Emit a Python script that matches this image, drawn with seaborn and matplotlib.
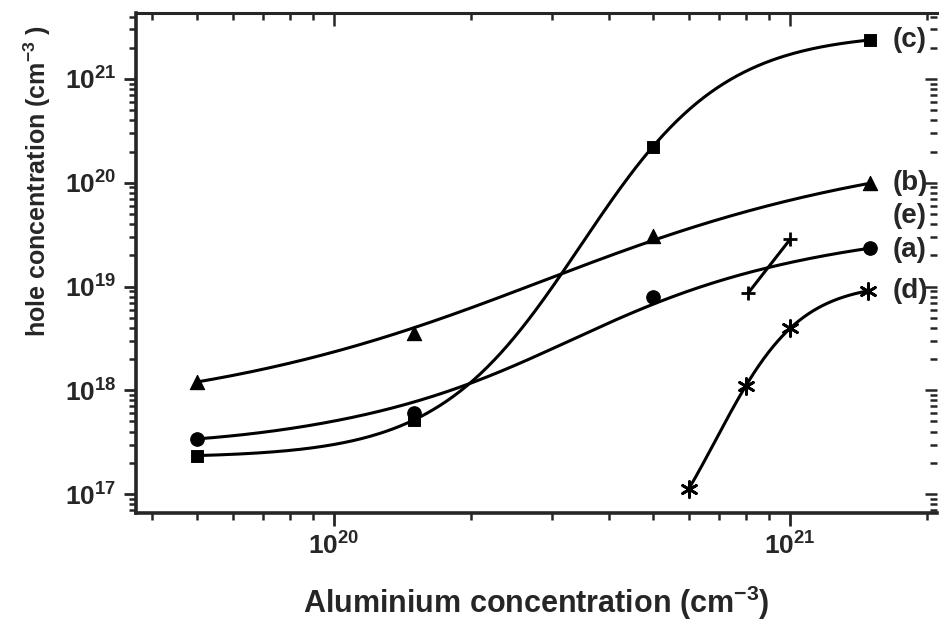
import numpy as np
import pandas as pd
import matplotlib
matplotlib.use("Agg")
import matplotlib.pyplot as plt
import seaborn as sns
from math import comb
from matplotlib.ticker import LogLocator, LogFormatterMathtext, NullFormatter

# ---------------- data ----------------
al_a = [5.0e19, 1.5e20, 5.0e20, 1.5e21]
hole_a = [3.4e17, 6.0e17, 7.9e18, 2.35e19]
al_b = [5.0e19, 1.5e20, 5.0e20, 1.5e21]
hole_b = [1.2e18, 3.55e18, 3.1e19, 9.9e19]
al_c = [5.0e19, 1.5e20, 5.0e20, 1.5e21]
hole_c = [2.35e17, 5.2e17, 2.2e20, 2.4e21]
al_d = [6.0e20, 8.0e20, 1.0e21, 1.48e21]
hole_d = [1.13e17, 1.1e18, 3.95e18, 9.1e18]
al_e = [8.1e20, 1.0e21]
hole_e = [8.7e18, 2.85e19]
curve_labels = ["(c)", "(b)", "(e)", "(a)", "(d)"]
x_title = "Aluminium concentration (cm$^{-3}$)"
y_title = "hole concentration (cm$^{-3}$ )"


# ---------------- smooth curves (log-log space) ----------------
N = 300


def grid(lx):
    return np.linspace(lx.min(), lx.max(), N)


def bezier_log(lx, ly):
    """B-spline (Bezier) using the data points as control points."""
    k = len(lx) - 1
    t = np.linspace(0, 1, 2000)
    basis = np.array([comb(k, i) * t ** i * (1 - t) ** (k - i) for i in range(k + 1)])
    bx, by = basis.T @ lx, basis.T @ ly
    gx = grid(lx)
    return gx, np.interp(gx, bx, by)


def boltzmann_log(lx, ly):
    """Least-squares sigmoidal (Boltzmann) fit."""
    x0s = np.linspace(lx.min() - 0.6, lx.max() + 0.6, 400)
    dxs = np.linspace(0.08, 0.8, 300)
    X0, DX = np.meshgrid(x0s, dxs, indexing="ij")
    s = 1.0 / (1.0 + np.exp((lx[None, None, :] - X0[..., None]) / DX[..., None]))
    sm = s.mean(-1, keepdims=True)
    ym = ly.mean()
    b = ((s - sm) * (ly - ym)).sum(-1) / np.maximum(((s - sm) ** 2).sum(-1), 1e-12)
    a = ym - b * sm[..., 0]
    res = ((a[..., None] + b[..., None] * s - ly) ** 2).sum(-1)
    i, j = np.unravel_index(np.argmin(res), res.shape)
    gx = grid(lx)
    return gx, a[i, j] + b[i, j] / (1.0 + np.exp((gx - X0[i, j]) / DX[i, j]))


def to_df(gx, gy):
    return pd.DataFrame({"x": 10 ** gx, "y": 10 ** gy})


def sigmoid_curve(x, y):
    lx, ly = np.log10(x), np.log10(y)
    return to_df(*boltzmann_log(lx, ly))


def relaxed_curve(x, y):
    """Smoothed curve: mean of the B-spline and the sigmoidal fit."""
    lx, ly = np.log10(x), np.log10(y)
    gx, yb = bezier_log(lx, ly)
    _, ys = boltzmann_log(lx, ly)
    return to_df(gx, 0.5 * (yb + ys))


def line_curve(x, y):
    lx, ly = np.log10(x), np.log10(y)
    coef = np.polyfit(lx, ly, 1)
    gx = grid(lx)
    return to_df(gx, np.polyval(coef, gx))


curve_a = relaxed_curve(al_a, hole_a)
curve_b = relaxed_curve(al_b, hole_b)
curve_c = sigmoid_curve(al_c, hole_c)
curve_d = sigmoid_curve(al_d, hole_d)
curve_e = line_curve(al_e, hole_e)

# ---------------- style ----------------
sns.set_style("ticks")
plt.rcParams["font.family"] = ["Liberation Sans", "DejaVu Sans"]
plt.rcParams["mathtext.default"] = "regular"

fig = plt.figure(figsize=(9.39, 6.29), dpi=100)
ax = fig.add_axes([136 / 939, 1 - 513 / 629, 801 / 939, 500 / 629])

lw = 2.2
for cdf in [curve_a, curve_b, curve_c, curve_d, curve_e]:
    sns.lineplot(data=cdf, x="x", y="y", ax=ax, color="black", lw=lw,
                 sort=False, estimator=None)

sns.scatterplot(x=al_c, y=hole_c, ax=ax, marker="s", s=70, color="black",
                edgecolor="black", zorder=5)
sns.scatterplot(x=al_a, y=hole_a, ax=ax, marker="o", s=95, color="black",
                edgecolor="black", zorder=5)
sns.scatterplot(x=al_b, y=hole_b, ax=ax, marker="^", s=105, color="black",
                edgecolor="black", zorder=5)
sns.scatterplot(x=al_d, y=hole_d, ax=ax, marker=(6, 2, 0), s=130,
                color="black", linewidth=2, zorder=5)
sns.scatterplot(x=al_e, y=hole_e, ax=ax, marker="+", s=110,
                color="black", linewidth=2, zorder=5)

ax.set_xscale("log")
ax.set_yscale("log")
ax.set_xlim(10 ** 19.566, 10 ** 21.322)
ax.set_ylim(10 ** 16.817, 10 ** 21.636)

for a_ in (ax.xaxis, ax.yaxis):
    a_.set_major_locator(LogLocator(base=10, numticks=20))
    a_.set_minor_locator(LogLocator(base=10, subs=np.arange(2, 10), numticks=20))
    a_.set_major_formatter(LogFormatterMathtext())
    a_.set_minor_formatter(NullFormatter())

ax.tick_params(which="major", direction="out", length=9, width=2,
               labelsize=19, pad=5)
ax.tick_params(which="minor", direction="out", length=5, width=1.8)
for lbl in ax.get_xticklabels() + ax.get_yticklabels():
    lbl.set_fontweight("bold")

for side in ("left", "bottom"):
    ax.spines[side].set_linewidth(2.6)
ax.spines["top"].set_linewidth(2.2)
ax.spines["right"].set_visible(False)

# mirrored inward ticks on top / right
axt = ax.twiny()
axt.set_xscale("log")
axt.set_xlim(ax.get_xlim())
axt.xaxis.set_major_locator(LogLocator(base=10, numticks=20))
axt.xaxis.set_minor_locator(LogLocator(base=10, subs=np.arange(2, 10), numticks=20))
axt.tick_params(which="both", direction="in", labeltop=False, width=1.8)
axt.tick_params(which="major", length=9)
axt.tick_params(which="minor", length=5)
axr = ax.twinx()
axr.set_yscale("log")
axr.set_ylim(ax.get_ylim())
axr.yaxis.set_major_locator(LogLocator(base=10, numticks=20))
axr.yaxis.set_minor_locator(LogLocator(base=10, subs=np.arange(2, 10), numticks=20))
axr.tick_params(which="both", direction="in", labelright=False, width=1.8)
axr.tick_params(which="major", length=9)
axr.tick_params(which="minor", length=5)
for t in (axt, axr):
    for sp in t.spines.values():
        sp.set_visible(False)

ax.set_xlabel(x_title, fontsize=22, fontweight="bold")
ax.set_ylabel(y_title, fontsize=18, fontweight="bold")
ax.xaxis.set_label_coords(0.50, -0.142)
ax.yaxis.set_label_coords(-0.103, 0.665)

label_y = [0.946, 0.660, 0.594, 0.526, 0.444]
for txt, yy in zip(curve_labels, label_y):
    ax.text(0.944, yy, txt, transform=ax.transAxes, ha="left", va="center",
            fontsize=20, fontweight="bold")

fig.savefig("out.png", dpi=100)
